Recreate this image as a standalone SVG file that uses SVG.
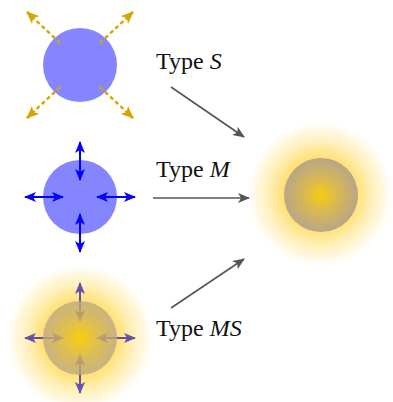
<svg xmlns="http://www.w3.org/2000/svg" width="393" height="402" viewBox="0 0 393 402">
<defs>
<style>
.lbl{font-family:"Liberation Serif","Times New Roman",serif;font-size:24px;fill:#111}
.dash{stroke:#d4a800;stroke-width:2.5;stroke-dasharray:4 3;fill:none}
.blue{stroke:#0000ff;stroke-width:2;fill:none}
.purp{stroke:#6250b0;stroke-width:2;fill:none}
.gray{stroke:#555;stroke-width:1.6;fill:none}
</style>
<marker id="mY" viewBox="0 0 12 10" refX="11" refY="5" markerUnits="userSpaceOnUse" markerWidth="13" markerHeight="11" orient="auto"><path d="M0,0 L12,5 L0,10 L3,5 z" fill="#d4a800"/></marker>
<marker id="mB" viewBox="0 0 12 10" refX="11" refY="5" markerUnits="userSpaceOnUse" markerWidth="13" markerHeight="10" orient="auto-start-reverse"><path d="M0,0 L12,5 L0,10 L3,5 z" fill="#0000ff"/></marker>
<marker id="mP" viewBox="0 0 12 10" refX="11" refY="5" markerUnits="userSpaceOnUse" markerWidth="13" markerHeight="10" orient="auto-start-reverse"><path d="M0,0 L12,5 L0,10 L3,5 z" fill="#6250b0"/></marker>
<marker id="mG" viewBox="0 0 12 10" refX="11" refY="5" markerUnits="userSpaceOnUse" markerWidth="13" markerHeight="10" orient="auto"><path d="M0,0 L12,5 L0,10 L3,5 z" fill="#555"/></marker>
<radialGradient id="glow" cx="0.5" cy="0.5" r="0.5">
<stop offset="0" stop-color="#ffd000"/>
<stop offset="0.5" stop-color="#ffe27a"/>
<stop offset="0.7" stop-color="#fff0bc"/>
<stop offset="0.88" stop-color="#fffaea"/>
<stop offset="1" stop-color="#ffffff" stop-opacity="0"/>
</radialGradient>
<radialGradient id="core" cx="0.5" cy="0.5" r="0.5">
<stop offset="0" stop-color="#f8cc14"/>
<stop offset="0.5" stop-color="#d6b658"/>
<stop offset="1" stop-color="#b8a688"/>
</radialGradient>
</defs>

<g id="typeS">
<circle cx="80" cy="65" r="37" fill="#8585ff"/>
<line class="dash" x1="60" y1="43" x2="27" y2="12" marker-end="url(#mY)"/>
<line class="dash" x1="100" y1="43" x2="133" y2="12" marker-end="url(#mY)"/>
<line class="dash" x1="60" y1="87" x2="27" y2="118" marker-end="url(#mY)"/>
<line class="dash" x1="100" y1="87" x2="133" y2="118" marker-end="url(#mY)"/>
</g>

<g id="typeM">
<circle cx="80" cy="197" r="37" fill="#8585ff"/>
<line class="blue" x1="80" y1="142" x2="80" y2="180" marker-start="url(#mB)" marker-end="url(#mB)"/>
<line class="blue" x1="80" y1="214" x2="80" y2="252" marker-start="url(#mB)" marker-end="url(#mB)"/>
<line class="blue" x1="25" y1="197" x2="63" y2="197" marker-start="url(#mB)" marker-end="url(#mB)"/>
<line class="blue" x1="97" y1="197" x2="135" y2="197" marker-start="url(#mB)" marker-end="url(#mB)"/>
</g>

<g id="typeMS">
<circle cx="80" cy="338" r="76" fill="url(#glow)"/>
<line class="purp" x1="80" y1="283" x2="80" y2="321" marker-start="url(#mP)" marker-end="url(#mP)"/>
<line class="purp" x1="80" y1="355" x2="80" y2="393" marker-start="url(#mP)" marker-end="url(#mP)"/>
<line class="purp" x1="25" y1="338" x2="63" y2="338" marker-start="url(#mP)" marker-end="url(#mP)"/>
<line class="purp" x1="97" y1="338" x2="135" y2="338" marker-start="url(#mP)" marker-end="url(#mP)"/>
<circle cx="80" cy="338" r="37" fill="url(#core)" fill-opacity="0.78"/>
</g>

<g id="result">
<circle cx="320" cy="194" r="75" fill="url(#glow)"/>
<circle cx="321" cy="195" r="37" fill="url(#core)"/>
</g>

<g id="labels">
<text class="lbl" x="156" y="69">Type <tspan font-style="italic">S</tspan></text>
<text class="lbl" x="156" y="177">Type <tspan font-style="italic">M</tspan></text>
<text class="lbl" x="156" y="336">Type <tspan font-style="italic">MS</tspan></text>
</g>

<g id="connectors">
<line class="gray" x1="171" y1="87" x2="244" y2="137" marker-end="url(#mG)"/>
<line class="gray" x1="153" y1="198" x2="249" y2="198" marker-end="url(#mG)"/>
<line class="gray" x1="171" y1="308" x2="244" y2="259" marker-end="url(#mG)"/>
</g>
</svg>
